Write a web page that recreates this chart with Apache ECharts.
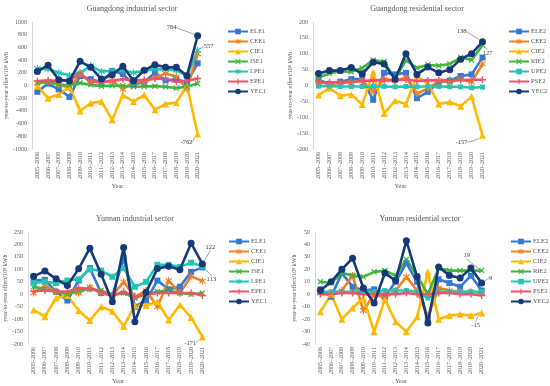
<!DOCTYPE html>
<html><head><meta charset="utf-8">
<script src="https://cdn.jsdelivr.net/npm/echarts@6/dist/echarts.min.js"></script>
<style>html,body{margin:0;padding:0;background:#fff}#c{width:550px;height:386px}</style>
</head><body><div id="c"></div>
<script>
const categories = ['2005–2006','2006–2007','2007–2008','2008–2009','2009–2010','2010–2011','2011–2012','2012–2013','2013–2014','2014–2015','2015–2016','2016–2017','2017–2018','2018–2019','2019–2020','2020–2021'];

// Guangdong industrial
const gdInd_ELE1 = [-100,30,-60,-180,150,100,50,230,180,20,50,200,80,100,50,350];
const gdInd_CEE1 = [40,60,10,-30,170,60,60,80,-60,60,50,120,190,140,-50,500];
const gdInd_CIE1 = [-10,-200,-140,-20,-400,-280,-250,-540,-150,-250,-150,-380,-290,-270,0,-762];
const gdInd_ISE1 = [40,50,20,0,40,10,-10,-5,-5,-20,-15,-10,-20,-40,-20,30];
const gdInd_LPE1 = [270,260,200,160,200,310,220,230,240,200,230,260,250,240,150,557];
const gdInd_EPE1 = [70,80,70,80,190,60,50,70,100,80,90,110,100,60,70,110];
const gdInd_YEC1 = [220,320,92,70,380,286,102,170,302,76,239,328,286,286,155,784];

// Guangdong residential
const gdRes_ELE2 = [18,5,12,20,20,-45,40,35,40,-40,-20,10,15,30,35,88];
const gdRes_CEE2 = [10,5,8,10,15,-20,20,15,25,-25,-10,15,10,20,10,68];
const gdRes_CIE2 = [-30,-8,-32,-28,-60,42,-88,-48,-58,30,5,-58,-52,-65,-35,-157];
const gdRes_RIE2 = [25,38,45,43,55,80,75,20,80,55,65,62,68,88,80,127];
const gdRes_UPE2 = [-2,-2,-3,-3,-3,-3,-3,-4,-3,-4,-3,-3,-4,-4,-7,-5];
const gdRes_PSE2 = [10,10,11,12,14,16,17,16,19,14,16,16,17,17,18,18];
const gdRes_YEC2 = [38,47,47,57,37,73,68,20,100,35,58,40,50,83,100,138];

// Yunnan industrial
const ynInd_ELE1 = [55,58,10,-25,55,105,5,-5,145,-50,-25,55,20,30,90,108];
const ynInd_CEE1 = [5,35,10,5,5,30,5,-5,50,-10,15,-50,55,5,72,53];
const ynInd_CIE1 = [-63,-90,-15,-5,-65,-105,-50,-68,-128,-45,-45,-30,-103,-43,-93,-171];
const ynInd_ISE1 = [30,20,10,0,15,20,15,-5,5,-15,0,10,15,5,0,5];
const ynInd_LPE1 = [45,50,45,55,60,100,95,70,105,30,50,118,118,110,127,113];
const ynInd_EPE1 = [12,15,12,10,25,22,10,-5,10,-10,0,5,5,5,5,-5];
const ynInd_YEC1 = [72,93,62,35,102,185,80,-30,188,-110,8,103,113,98,205,122];

// Yunnan residential
const ynRes_ELE2 = [4,-2,17,6,3,4,-2,10,25,10,-20,12,9,6,15,3];
const ynRes_CEE2 = [1,0,3,15,-13,0,-3,3,14,3,-18,5,3,2,2,1];
const ynRes_CIE2 = [-14,0,-20,-11,-3,-30,-4,-22,-30,-18,18,-20,-17,-16,-17,-15];
const ynRes_RIE2 = [10,9,17,15,14,18,19,15,28,15,0,21,19,19,19,19];
const ynRes_UPE2 = [2,2,2,2,2,2,3,3,3,2,-3,2,2,2,2,2];
const ynRes_PSE2 = [0,0,1,1,0,0,0,0,1,0,0,1,1,0,0,-1];
const ynRes_YEC2 = [3,10,20,29,5,-7,17,11,43,14,-23,22,15,13,21,9];

const titles = ['Guangdong industrial sector','Guangdong residential sector','Yunnan industrial sector','Yunnan residential sector'];
const yTicks = [{min:-1000,max:1000,interval:200},{min:-200,max:200,interval:50},{min:-200,max:250,interval:50},{min:-40,max:50,interval:10}];

const C = {blue:'#3478d4', orange:'#f5801f', gold:'#ffb900', green:'#3fb53a', teal:'#26c4b4', pink:'#f4506a', navy:'#143a78'};
const SYM_X = 'path://M0,1.5 L1.5,0 L5,3.5 L8.5,0 L10,1.5 L6.5,5 L10,8.5 L8.5,10 L5,6.5 L1.5,10 L0,8.5 L3.5,5 Z';
const SYM_PLUS = 'path://M4,0 H6 V4 H10 V6 H6 V10 H4 V6 H0 V4 H4 Z';
const SYM_AST = 'path://M4.2,0 H5.8 V3.6 L8.6,1.2 L9.6,2.4 L6.6,5 L9.6,7.6 L8.6,8.8 L5.8,6.4 V10 H4.2 V6.4 L1.4,8.8 L0.4,7.6 L3.4,5 L0.4,2.4 L1.4,1.2 L4.2,3.6 Z';

const panels = [
  {series:[['ELE1',gdInd_ELE1,C.blue,'rect',6],['CEE1',gdInd_CEE1,C.orange,SYM_AST,7],['CIE1',gdInd_CIE1,C.gold,'triangle',7],['ISE1',gdInd_ISE1,C.green,SYM_X,6],['LPE1',gdInd_LPE1,C.teal,SYM_AST,7],['EPE1',gdInd_EPE1,C.pink,SYM_PLUS,7],['YEC1',gdInd_YEC1,C.navy,'circle',7]],
   labels:{YEC1:[-26,-8],LPE1:[11,-4],CIE1:[-11,8]}},
  {series:[['ELE2',gdRes_ELE2,C.blue,'rect',6],['CEE2',gdRes_CEE2,C.orange,SYM_AST,7],['CIE2',gdRes_CIE2,C.gold,'triangle',7],['RIE2',gdRes_RIE2,C.green,SYM_X,6],['UPE2',gdRes_UPE2,C.teal,'rect',5],['PSE2',gdRes_PSE2,C.pink,SYM_PLUS,7],['YEC2',gdRes_YEC2,C.navy,'circle',7]],
   labels:{YEC2:[-21,-10],RIE2:[5,8],CIE2:[-21,7]}},
  {series:[['ELE1',ynInd_ELE1,C.blue,'rect',6],['CEE1',ynInd_CEE1,C.orange,SYM_AST,7],['CIE1',ynInd_CIE1,C.gold,'triangle',7],['ISE1',ynInd_ISE1,C.green,SYM_X,6],['LPE1',ynInd_LPE1,C.teal,'rect',6],['EPE1',ynInd_EPE1,C.pink,SYM_PLUS,7],['YEC1',ynInd_YEC1,C.navy,'circle',7]],
   labels:{YEC1:[8,-17],LPE1:[9,13],CIE1:[-12,6]}},
  {series:[['ELE2',ynRes_ELE2,C.blue,'rect',6],['CEE2',ynRes_CEE2,C.orange,SYM_AST,7],['CIE2',ynRes_CIE2,C.gold,'triangle',7],['RIE2',ynRes_RIE2,C.green,SYM_X,6],['UPE2',ynRes_UPE2,C.teal,'rect',5],['PSE2',ynRes_PSE2,C.pink,SYM_PLUS,7],['YEC2',ynRes_YEC2,C.navy,'circle',7]],
   labels:{RIE2:[-15,-15],YEC2:[9,-5],CIE2:[-6,12]}}
];

const grids = [
  {left:32, top:22, width:171, height:127},
  {left:313, top:22, width:175, height:127},
  {left:28, top:232, width:180, height:113},
  {left:315, top:232, width:172, height:113}
];
const legendPos = [{left:227, top:28},{left:508, top:28},{left:228, top:238},{left:510, top:238}];
const titlePos = [{left:127, top:0},{left:412, top:0},{left:130, top:210},{left:415, top:210}];

const FONT = 'Liberation Serif';
const option = {
  animation:false,
  backgroundColor:'#fff',
  title: titles.map((t,i)=>({text:t, left:titlePos[i].left, top:titlePos[i].top, textAlign:'center',
     textStyle:{fontFamily:FONT, fontSize:8, fontWeight:'normal', color:'#595959'}})),
  grid: grids,
  legend: panels.map((p,i)=>({orient:'vertical', left:legendPos[i].left, top:legendPos[i].top, padding:0, itemGap:3, itemWidth:20, itemHeight:7,
     data:p.series.map(s=>s[0]), textStyle:{fontFamily:FONT, fontSize:6.5, color:'#595959', padding:[0,0,0,-3]}})),
  xAxis: grids.map((g,i)=>({type:'category', gridIndex:i, data:categories, boundaryGap:true,
     name:'Year', nameLocation:'middle', nameGap:30, nameTextStyle:{fontFamily:FONT, fontSize:6.5, color:'#595959'},
     axisLine:{show:false}, axisTick:{show:false}, splitLine:{show:false},
     axisLabel:{rotate:90, fontFamily:FONT, fontSize:6, color:'#595959', margin:3, interval:0}})),
  yAxis: grids.map((g,i)=>({type:'value', gridIndex:i, min:yTicks[i].min, max:yTicks[i].max, interval:yTicks[i].interval,
     name:'year-to-year effect/10⁸ kWh', nameLocation:'middle', nameGap: i===0?22:18, nameRotate:90,
     nameTextStyle:{fontFamily:FONT, fontSize:6, color:'#595959'},
     axisLine:{show:true, lineStyle:{color:'#d9d9d9', width:1}}, axisTick:{show:false}, splitLine:{show:false},
     axisLabel:{fontFamily:FONT, fontSize:6, color:'#595959', margin:5, formatter:(v)=>String(v)}})),
  series: []
};

panels.forEach((p,pi)=>{
  p.series.forEach(([name,vals,color,sym,size])=>{
    const lab = p.labels[name];
    const last = vals.length-1;
    option.series.push({
      type:'line', name, xAxisIndex:pi, yAxisIndex:pi,
      data: vals.map((v,i)=> (lab && i===last) ? {value:v, label:{show:true}, labelLine:{show:true}} : v),
      symbol:sym, symbolSize:size, showAllSymbol:true,
      itemStyle:{color}, lineStyle:{color, width:2.6},
      label:{show:false, position:'inside', fontFamily:FONT, fontSize:6.5, color:'#404040', formatter:'{c}'},
      labelLine:{show:false, lineStyle:{color:'#8c8c8c', width:0.8}},
      labelLayout: lab ? (params)=> (params.dataIndex===last ? {dx:lab[0], dy:lab[1]} : {}) : undefined,
      z: name.startsWith('YEC') ? 5 : 3
    });
  });
});

const chart = echarts.init(document.getElementById('c'), null, {renderer:'canvas'});
chart.setOption(option);
</script></body></html>
